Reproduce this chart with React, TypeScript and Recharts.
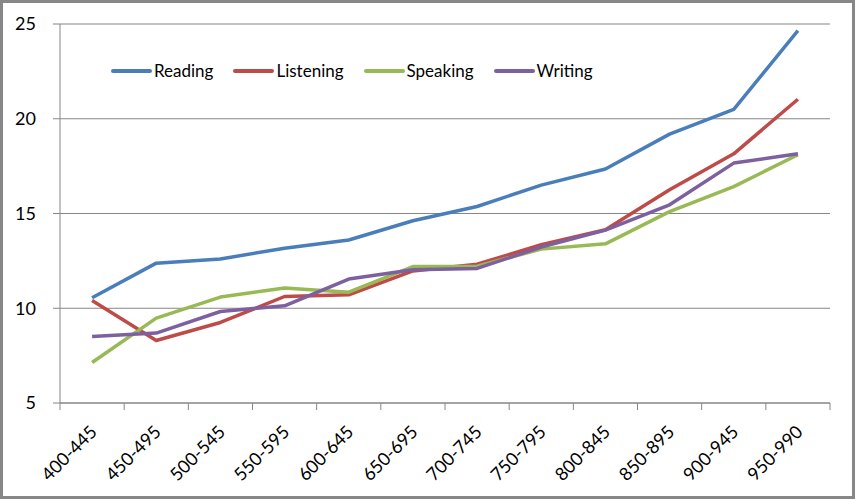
import { LineChart, Line, XAxis, YAxis, CartesianGrid, Legend } from "recharts";

const RANGES = [
  "400-445", "450-495", "500-545", "550-595", "600-645", "650-695",
  "700-745", "750-795", "800-845", "850-895", "900-945", "950-990",
];
const READING = [10.55, 12.38, 12.6, 13.17, 13.6, 14.62, 15.37, 16.5, 17.35, 19.19, 20.5, 24.65];
const LISTENING = [10.41, 8.3, 9.25, 10.62, 10.71, 11.97, 12.32, 13.35, 14.14, 16.25, 18.15, 21.03];
const SPEAKING = [7.14, 9.48, 10.59, 11.07, 10.85, 12.2, 12.22, 13.12, 13.4, 15.1, 16.42, 18.1];
const WRITING = [8.51, 8.69, 9.83, 10.13, 11.54, 12.03, 12.1, 13.23, 14.12, 15.46, 17.66, 18.15];
const Y_TICKS = [5, 10, 15, 20, 25];

const SERIES = [
  { key: "Reading", color: "#4a7ebb" },
  { key: "Listening", color: "#be4b48" },
  { key: "Speaking", color: "#98b954" },
  { key: "Writing", color: "#7d60a0" },
];

const data = RANGES.map((range, i) => ({
  range,
  Reading: READING[i],
  Listening: LISTENING[i],
  Speaking: SPEAKING[i],
  Writing: WRITING[i],
}));

const W = 855;
const H = 499;
const MARGIN = { top: 24, right: 25, bottom: 0, left: 0 };
const Y_W = 60;
const X_H = 96;
const PLOT_W = W - MARGIN.left - MARGIN.right - Y_W;
const AXIS = "#868686";
const FONT = "Lato, 'Open Sans', sans-serif";

function CategoryTick(props: any) {
  const { x, y, payload, index } = props;
  const half = PLOT_W / RANGES.length / 2;
  return (
    <g>
      <line x1={x - half} x2={x - half} y1={y} y2={y + 7} stroke={AXIS} />
      {index === RANGES.length - 1 && (
        <line x1={x + half} x2={x + half} y1={y} y2={y + 7} stroke={AXIS} />
      )}
      <text
        x={x + 6}
        y={y + 30}
        textAnchor="end"
        transform={`rotate(-45, ${x + 6}, ${y + 30})`}
        fontSize={18}
        fontFamily={FONT}
        fill="#000"
      >
        {payload.value}
      </text>
    </g>
  );
}

// keep the legend in series order rather than recharts' sorted payload
function LegendContent() {
  return (
    <div style={{ display: "flex", alignItems: "center", fontFamily: FONT, fontSize: 17, whiteSpace: "nowrap" }}>
      {SERIES.map((s) => (
        <div key={s.key} style={{ display: "flex", alignItems: "center", marginRight: 20 }}>
          <svg width={41} height={6} style={{ marginRight: 2 }}>
            <line x1={2} x2={39} y1={3} y2={3} stroke={s.color} strokeWidth={4} strokeLinecap="round" />
          </svg>
          <span style={{ color: "#000" }}>{s.key}</span>
        </div>
      ))}
    </div>
  );
}

export default function App() {
  return (
    <div style={{ position: "absolute", left: 0, top: 0, width: W, height: H, background: "#fff" }}>
      <LineChart width={W} height={H} data={data} margin={MARGIN}>
        <CartesianGrid vertical={false} stroke={AXIS} />
        <XAxis
          dataKey="range"
          scale="band"
          height={X_H}
          interval={0}
          tickLine={false}
          tickSize={0}
          tickMargin={0}
          axisLine={{ stroke: AXIS }}
          tick={<CategoryTick />}
        />
        <YAxis
          width={Y_W}
          domain={[5, 25]}
          ticks={Y_TICKS}
          interval={0}
          tickSize={7}
          tickMargin={17}
          axisLine={{ stroke: AXIS }}
          tickLine={{ stroke: AXIS }}
          tick={{ fill: "#000", fontSize: 18, fontFamily: FONT }}
        />
        <Legend
          layout="horizontal"
          verticalAlign="middle"
          align="center"
          content={<LegendContent />}
          wrapperStyle={{ top: 60, left: 111, width: "auto" }}
        />
        {SERIES.map((s) => (
          <Line
            key={s.key}
            type="linear"
            dataKey={s.key}
            stroke={s.color}
            strokeWidth={3.5}
            strokeLinejoin="round"
            dot={false}
            activeDot={false}
            isAnimationActive={false}
          />
        ))}
      </LineChart>
      <div
        style={{
          position: "absolute",
          inset: 0,
          border: "3px solid #878787",
          pointerEvents: "none",
        }}
      />
    </div>
  );
}
